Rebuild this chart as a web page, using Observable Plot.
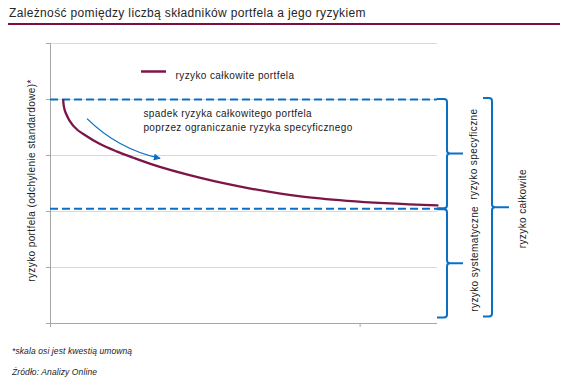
<!DOCTYPE html>
<html><head><meta charset="utf-8">
<script src="https://cdn.jsdelivr.net/npm/d3@7"></script>
<script src="https://cdn.jsdelivr.net/npm/@observablehq/plot@0.6"></script>
<style>
body{margin:0;background:#fff;}
#wrap{position:relative;width:568px;height:380px;font-family:"Liberation Sans",Arial,sans-serif;overflow:hidden;}
#chart{position:absolute;left:0;top:0;}
#title{position:absolute;left:9px;top:6px;font-size:12px;letter-spacing:0.35px;color:#262626;white-space:nowrap;}
#rule{position:absolute;left:8px;top:23px;width:552px;height:2px;background:#7b0f44;}
.foot{position:absolute;left:12px;font-size:8.5px;font-style:italic;color:#222;white-space:nowrap;letter-spacing:0.1px;}
</style></head>
<body>
<div id="wrap">
  <div id="chart"></div>
  <div id="title"></div>
  <div id="rule"></div>
  <div class="foot" id="f1" style="top:346px"></div>
  <div class="foot" id="f2" style="top:367px"></div>
</div>
<script>
// ---- data ----
const titleText = "Zależność pomiędzy liczbą składników portfela a jego ryzykiem";
const footNote = "*skala osi jest kwestią umowną";
const sourceNote = "Źródło: Analizy Online";
const yLabel = "ryzyko portfela (odchylenie standardowe)*";
const seriesLabel = "ryzyko całkowite portfela";
const noteText = "spadek ryzyka całkowitego portfela\npoprzez ograniczanie ryzyka specyficznego";
const braceLabels = ["ryzyko specyficzne", "ryzyko systematyczne", "ryzyko całkowite"];

const assets    = [0.82, 0.86, 1.08, 1.51, 2.37, 3.23, 4.31, 5.36, 6.46, 9.69, 12.92, 14.86, 16.15, 19.19, 25];
const totalRisk = [3.99, 3.88, 3.70, 3.52, 3.34, 3.20, 3.07, 2.96, 2.85, 2.60, 2.41, 2.32, 2.27, 2.19, 2.11];
const startRisk = 4;          // top dashed line (initial total risk)
const systematicRisk = 2.05;  // bottom dashed line (systematic risk)
const braceBottom = 0.1;      // lower end of systematic / total braces
const yTicks = [0, 1, 2, 3, 4, 5];
const xTicks = [0, 20];
const arrowFrom = [2.39, 3.65];
const arrowTo = [7.11, 2.94];
const noteAt = [6.0, 3.64];

document.getElementById("title").textContent = titleText;
document.getElementById("f1").textContent = footNote;
document.getElementById("f2").textContent = sourceNote;

const curveColor = "#7d1549";
const blue = "#0a70c6";
const axisGray = "#a6a6a6";
const data = assets.map((x, i) => ({x, y: totalRisk[i]}));

const NS = "http://www.w3.org/2000/svg";
function el(name, attrs) {
  const e = document.createElementNS(NS, name);
  for (const k in attrs) e.setAttribute(k, attrs[k]);
  return e;
}

// annotations drawn through the plot's scales
function annotations(index, scales, values, dim) {
  const {x, y} = scales;
  const g = el("g", {});
  const R = dim.width - dim.marginRight;
  const L = dim.marginLeft, T = dim.marginTop;
  // legend swatch
  g.appendChild(el("line", {x1: L + 91, x2: L + 116, y1: T + 28.5, y2: T + 28.5, stroke: curveColor, "stroke-width": 2.5}));
  // arrow
  const defs = el("defs", {});
  const marker = el("marker", {id: "ah", viewBox: "0 0 10 10", refX: 9, refY: 5, markerWidth: 7, markerHeight: 7, orient: "auto", markerUnits: "userSpaceOnUse"});
  marker.appendChild(el("path", {d: "M0,0 L10,5 L0,10 z", fill: blue}));
  defs.appendChild(marker);
  g.appendChild(defs);
  const x1 = x(arrowFrom[0]), y1 = y(arrowFrom[1]), x2 = x(arrowTo[0]), y2 = y(arrowTo[1]);
  const mx = (x1 + x2) / 2, my = (y1 + y2) / 2;
  const dx = x2 - x1, dy = y2 - y1, len = Math.hypot(dx, dy);
  const cx = mx - 12 * dy / len, cy = my + 12 * dx / len;
  g.appendChild(el("path", {d: `M${x1},${y1} Q${cx},${cy} ${x2},${y2}`, fill: "none", stroke: blue, "stroke-width": 1.3, "marker-end": "url(#ah)"}));
  // braces
  function brace(xl, xv, xt, top, bot) {
    const mid = (top + bot) / 2, r = 3;
    const d = `M${xl},${top} L${xv - r},${top} Q${xv},${top} ${xv},${top + r} L${xv},${mid - r} Q${xv},${mid} ${xv + r},${mid} L${xt},${mid} ` +
              `M${xv + r},${mid} Q${xv},${mid} ${xv},${mid + r} L${xv},${bot - r} Q${xv},${bot} ${xv - r},${bot} L${xl},${bot}`;
    g.appendChild(el("path", {d, fill: "none", stroke: blue, "stroke-width": 2}));
  }
  brace(R, R + 10, R + 26, y(startRisk), y(systematicRisk));
  brace(R, R + 10, R + 26, y(systematicRisk) + 1, y(braceBottom));
  brace(R + 46, R + 55, R + 72, y(startRisk) - 1, y(braceBottom) - 1);
  return g;
}

const chart = Plot.plot({
  width: 568,
  height: 380,
  marginTop: 43,
  marginBottom: 57,
  marginLeft: 50,
  marginRight: 131,
  style: {fontFamily: "'Liberation Sans', Arial, sans-serif", fontSize: "10px", color: "#1a1a1a", letterSpacing: "0.4px", background: "transparent"},
  x: {domain: [0, 25]},
  y: {domain: [0, 5]},
  marks: [
    Plot.gridY(yTicks, {stroke: "#d9d9d9", strokeOpacity: 1}),
    Plot.axisY({ticks: yTicks, tickSize: 4, tickFormat: () => "", label: null, stroke: axisGray}),
    Plot.axisX({ticks: xTicks, tickSize: 4, tickFormat: () => "", label: null, stroke: axisGray}),
    Plot.ruleX([0], {stroke: axisGray}),
    Plot.ruleY([0], {stroke: axisGray}),
    Plot.ruleY([startRisk, systematicRisk], {stroke: blue, strokeWidth: 2, strokeDasharray: "8,4"}),
    Plot.line(data, {x: "x", y: "y", stroke: curveColor, strokeWidth: 2.3, curve: "monotone-x"}),
    Plot.text([yLabel], {frameAnchor: "left", textAnchor: "middle", dx: -19, dy: -3, rotate: -90, fill: "#1a1a1a"}),
    Plot.text([seriesLabel], {frameAnchor: "top-left", dx: 125, dy: 28.5, textAnchor: "start", fill: "#1a1a1a"}),
    Plot.text([noteText], {x: () => noteAt[0], y: () => noteAt[1], textAnchor: "start", lineAnchor: "middle", lineHeight: 1.35, fill: "#1a1a1a"}),
    Plot.text([0], {y: (startRisk + systematicRisk) / 2, frameAnchor: "right", textAnchor: "middle", dx: 36, rotate: -90, text: () => braceLabels[0], fill: "#1a1a1a"}),
    Plot.text([0], {y: (systematicRisk + braceBottom) / 2 + 0.08, frameAnchor: "right", textAnchor: "middle", dx: 37, rotate: -90, text: () => braceLabels[1], fill: "#1a1a1a"}),
    Plot.text([0], {y: (startRisk + braceBottom) / 2, frameAnchor: "right", textAnchor: "middle", dx: 85, rotate: -90, text: () => braceLabels[2], fill: "#1a1a1a"}),
    annotations
  ]
});
document.getElementById("chart").appendChild(chart);
</script>
</body></html>
